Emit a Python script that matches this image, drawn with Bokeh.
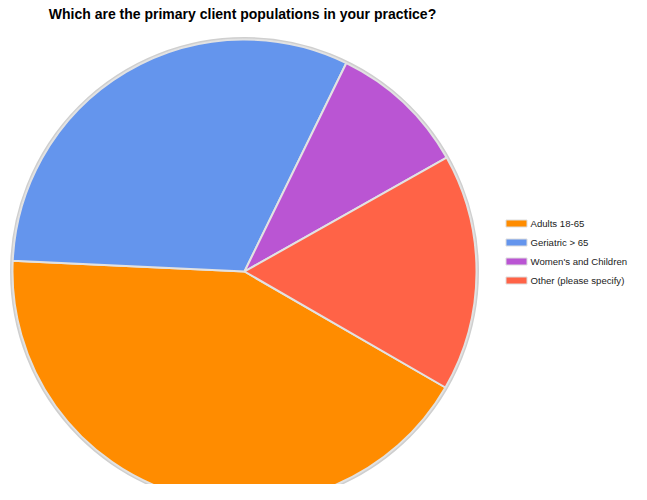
import math
from bokeh.plotting import figure
from bokeh.models import Range1d, ColumnDataSource
from bokeh.core.properties import value
from bokeh.embed import file_html
from bokeh.resources import INLINE

title = "Which are the primary client populations in your practice?"
categories = ["Adults 18-65", "Geriatric > 65", "Women's and Children", "Other (please specify)"]
shares = [42.4, 31.5, 9.6, 16.5]
colors = ["#FF8C00", "#6495ED", "#BA55D3", "#FF6347"]

W, H = 631, 484
p = figure(width=W, height=H, output_backend="svg", toolbar_location=None,
           x_range=Range1d(0, W), y_range=Range1d(-H, 0),
           min_border=0, outline_line_color=None)
p.axis.visible = False
p.grid.visible = False
p.background_fill_color = "white"

cx, cy, r = 244, -271, 232
start_offset = 120.0  # degrees clockwise from 12 o'clock where first slice begins
total = sum(shares)
starts, ends = [], []
acc = start_offset
for s in shares:
    a0 = math.radians(90 - acc)
    acc += s / total * 360
    a1 = math.radians(90 - acc)
    starts.append(a0)
    ends.append(a1)

src = ColumnDataSource(dict(start=starts, end=ends, color=colors, label=categories))
p.circle(x=[cx], y=[cy], radius=r + 1, fill_color=None, line_color="#cfcfcf", line_width=3)
p.wedge(x=cx, y=cy, radius=r, start_angle="start", end_angle="end", direction="clock",
        fill_color="color", line_color="#e2e2e2", line_width=2, source=src)

# title
p.text(x=[242], y=[-13], text=[title], text_font=value("Liberation Sans"), text_font_style="bold",
       text_font_size="14px", text_align="center", text_baseline="middle", text_color="#000000")

# legend
ly = [-223, -242, -261, -280]
p.rect(x=[516] * 4, y=ly, width=21, height=7, fill_color=colors, line_color="#dddddd", line_width=1)
p.text(x=[530] * 4, y=ly, text=categories, text_font=value("Liberation Sans"), text_font_size="9.6px",
       text_align="left", text_baseline="middle", text_color="#222222")

open("out.html", "w").write(file_html(p, INLINE))
